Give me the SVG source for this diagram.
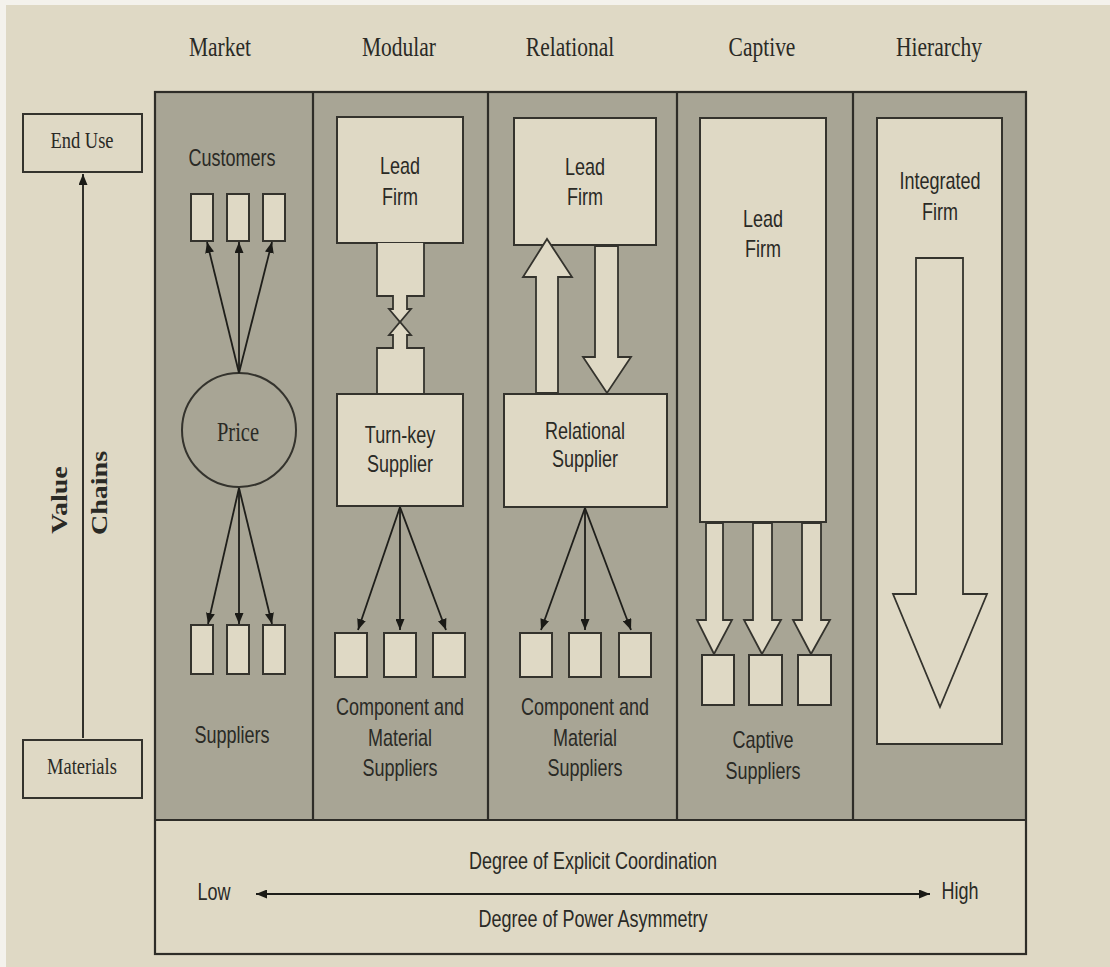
<svg xmlns="http://www.w3.org/2000/svg" width="1110" height="967" viewBox="0 0 1110 967">
<style>
.bg{fill:#dfd9c5}
.panel{fill:#a8a595}
.frame{fill:none;stroke:#2e2d28;stroke-width:2.2}
.box{fill:#dfd9c5;stroke:#34332d;stroke-width:2}
.blk{fill:#dfd9c5;stroke:#34332d;stroke-width:1.8;stroke-linejoin:miter}
.ln{stroke:#1e1e1a;stroke-width:1.8;fill:none}
.serif{font-family:"Liberation Serif","Times New Roman",serif;fill:#2a2a25;text-anchor:middle}
.sans{font-family:"Liberation Sans",Arial,sans-serif;fill:#2a2a25;text-anchor:middle;font-size:18px}
.title{font-size:21.5px}
</style>
<defs>
<marker id="ah" markerWidth="11" markerHeight="9" refX="11" refY="4.5" orient="auto-start-reverse" markerUnits="userSpaceOnUse">
<path d="M0,0 L11,4.5 L0,9 z" fill="#1a1a16"/>
</marker>
</defs>

<rect width="1110" height="967" fill="#f4f2ec"/>
<rect x="6" y="5" width="1104" height="962" class="bg"/>

<!-- column titles -->
<g id="titles">
<text class="serif title" x="220" y="56" transform="matrix(1 0 0 1.3 0 -16.8)">Market</text>
<text class="serif title" x="399" y="56" transform="matrix(1 0 0 1.3 0 -16.8)">Modular</text>
<text class="serif title" x="570" y="56" transform="matrix(1 0 0 1.3 0 -16.8)">Relational</text>
<text class="serif title" x="762" y="56" transform="matrix(1 0 0 1.3 0 -16.8)">Captive</text>
<text class="serif title" x="939" y="56" transform="matrix(1 0 0 1.3 0 -16.8)">Hierarchy</text>
</g>

<!-- main panel -->
<g id="panel">
<rect x="155" y="92" width="871" height="728" class="panel"/>
<rect x="155" y="820" width="871" height="134" class="bg"/>
<rect x="155" y="92" width="871" height="862" class="frame"/>
<line x1="155" y1="820" x2="1026" y2="820" class="frame"/>
<line x1="313" y1="92" x2="313" y2="820" class="frame"/>
<line x1="488" y1="92" x2="488" y2="820" class="frame"/>
<line x1="677" y1="92" x2="677" y2="820" class="frame"/>
<line x1="853" y1="92" x2="853" y2="820" class="frame"/>
</g>

<!-- value chain axis -->
<g id="end-use">
<rect x="23" y="114" width="119" height="58" class="box"/>
<text class="serif" font-size="18.5" x="82" y="148" transform="matrix(1 0 0 1.3 0 -44.4)">End Use</text>
</g>
<g id="materials">
<rect x="23" y="740" width="119" height="58" class="box"/>
<text class="serif" font-size="18.5" x="82" y="774" transform="matrix(1 0 0 1.3 0 -232.2)">Materials</text>
</g>
<g id="value-chains-label">
<text class="serif" font-size="23" font-weight="bold" transform="translate(67,500) rotate(-90) scale(1.22,1)" x="0" y="0">Value</text>
<text class="serif" font-size="23" font-weight="bold" transform="translate(107,493) rotate(-90) scale(1.22,1)" x="0" y="0">Chains</text>
</g>

<!-- Market -->
<g id="market-customers">
<text class="sans" x="232" y="166" transform="matrix(1 0 0 1.3 0 -49.8)">Customers</text>
<rect x="191" y="194" width="22" height="47" class="box"/>
<rect x="227" y="194" width="22" height="47" class="box"/>
<rect x="263" y="194" width="22" height="47" class="box"/>
</g>
<g id="market-price">
<circle cx="239" cy="430" r="57" fill="#a8a595" stroke="#34332d" stroke-width="2"/>
<text class="serif" font-size="20.5" x="238" y="441" transform="matrix(1 0 0 1.3 0 -132.3)">Price</text>
</g>
<g id="market-suppliers">
<rect x="191" y="625" width="22" height="49" class="box"/>
<rect x="227" y="625" width="22" height="49" class="box"/>
<rect x="263" y="625" width="22" height="49" class="box"/>
<text class="sans" x="232" y="743" transform="matrix(1 0 0 1.3 0 -222.9)">Suppliers</text>
</g>

<!-- Modular -->
<g id="modular-lead-firm">
<rect x="337" y="117" width="126" height="126" class="box"/>
<text class="sans" x="400" y="174" transform="matrix(1 0 0 1.3 0 -52.2)">Lead</text>
<text class="sans" x="400" y="205" transform="matrix(1 0 0 1.3 0 -61.5)">Firm</text>
</g>
<g id="turnkey-supplier">
<rect x="337" y="394" width="126" height="112" class="box"/>
<text class="sans" x="400" y="443" transform="matrix(1 0 0 1.3 0 -132.9)">Turn-key</text>
<text class="sans" x="400" y="472" transform="matrix(1 0 0 1.3 0 -141.6)">Supplier</text>
</g>
<g id="modular-suppliers">
<rect x="335" y="633" width="32" height="44" class="box"/>
<rect x="384" y="633" width="32" height="44" class="box"/>
<rect x="433" y="633" width="32" height="44" class="box"/>
<text class="sans" x="400" y="715" transform="matrix(1 0 0 1.3 0 -214.5)">Component and</text>
<text class="sans" x="400" y="746" transform="matrix(1 0 0 1.3 0 -223.8)">Material</text>
<text class="sans" x="400" y="776" transform="matrix(1 0 0 1.3 0 -232.8)">Suppliers</text>
</g>

<!-- Relational -->
<g id="relational-lead-firm">
<rect x="514" y="118" width="142" height="127" class="box"/>
<text class="sans" x="585" y="175" transform="matrix(1 0 0 1.3 0 -52.5)">Lead</text>
<text class="sans" x="585" y="205" transform="matrix(1 0 0 1.3 0 -61.5)">Firm</text>
</g>
<g id="relational-supplier">
<rect x="504" y="394" width="163" height="113" class="box"/>
<text class="sans" x="585" y="439" transform="matrix(1 0 0 1.3 0 -131.7)">Relational</text>
<text class="sans" x="585" y="467" transform="matrix(1 0 0 1.3 0 -140.1)">Supplier</text>
</g>
<g id="relational-suppliers">
<rect x="520" y="633" width="32" height="44" class="box"/>
<rect x="569" y="633" width="32" height="44" class="box"/>
<rect x="619" y="633" width="32" height="44" class="box"/>
<text class="sans" x="585" y="715" transform="matrix(1 0 0 1.3 0 -214.5)">Component and</text>
<text class="sans" x="585" y="746" transform="matrix(1 0 0 1.3 0 -223.8)">Material</text>
<text class="sans" x="585" y="776" transform="matrix(1 0 0 1.3 0 -232.8)">Suppliers</text>
</g>

<!-- Captive -->
<g id="captive-lead-firm">
<rect x="700" y="118" width="126" height="404" class="box"/>
<text class="sans" x="763" y="227" transform="matrix(1 0 0 1.3 0 -68.1)">Lead</text>
<text class="sans" x="763" y="257" transform="matrix(1 0 0 1.3 0 -77.1)">Firm</text>
</g>
<g id="captive-suppliers">
<rect x="702" y="655" width="32" height="50" class="box"/>
<rect x="749" y="655" width="33" height="50" class="box"/>
<rect x="798" y="655" width="33" height="50" class="box"/>
<text class="sans" x="763" y="748" transform="matrix(1 0 0 1.3 0 -224.4)">Captive</text>
<text class="sans" x="763" y="779" transform="matrix(1 0 0 1.3 0 -233.7)">Suppliers</text>
</g>

<!-- Hierarchy -->
<g id="integrated-firm">
<rect x="877" y="118" width="125" height="626" class="box"/>
<text class="sans" x="940" y="189" transform="matrix(1 0 0 1.3 0 -56.7)">Integrated</text>
<text class="sans" x="940" y="220" transform="matrix(1 0 0 1.3 0 -66)">Firm</text>
</g>

<!-- coordination scale -->
<g id="scale-labels">
<text class="sans" x="593" y="869" transform="matrix(1 0 0 1.3 0 -260.7)">Degree of Explicit Coordination</text>
<text class="sans" x="214" y="900" transform="matrix(1 0 0 1.3 0 -270)">Low</text>
<text class="sans" x="960" y="899" transform="matrix(1 0 0 1.3 0 -269.7)">High</text>
<text class="sans" x="593" y="927" transform="matrix(1 0 0 1.3 0 -278.1)">Degree of Power Asymmetry</text>
</g>

<!-- connectors -->
<g id="connectors">
<line x1="83" y1="738" x2="83" y2="174" class="ln" stroke-width="2.2" marker-end="url(#ah)"/>

<line x1="239" y1="373" x2="207" y2="242" class="ln" marker-end="url(#ah)"/>
<line x1="239" y1="373" x2="239" y2="242" class="ln" marker-end="url(#ah)"/>
<line x1="239" y1="373" x2="272" y2="242" class="ln" marker-end="url(#ah)"/>
<line x1="239" y1="488" x2="208" y2="624" class="ln" marker-end="url(#ah)"/>
<line x1="239" y1="488" x2="239" y2="624" class="ln" marker-end="url(#ah)"/>
<line x1="239" y1="488" x2="272" y2="624" class="ln" marker-end="url(#ah)"/>

<path d="M377,243 V296 H393 V309 H389 L400,322 L411,309 H407 V296 H424 V243" class="blk"/>
<path d="M377,393 V348 H393 V335 H389 L400,322 L411,335 H407 V348 H424 V393" class="blk"/>

<line x1="400" y1="507" x2="358" y2="630" class="ln" marker-end="url(#ah)"/>
<line x1="400" y1="507" x2="400" y2="630" class="ln" marker-end="url(#ah)"/>
<line x1="400" y1="507" x2="446" y2="630" class="ln" marker-end="url(#ah)"/>

<polygon points="536,393 536,277 523,277 547,239 572,277 558,277 558,393" class="blk"/>
<polygon points="595,246 595,357 583,357 607,393 631,357 618,357 618,246" class="blk"/>

<line x1="585" y1="508" x2="541" y2="630" class="ln" marker-end="url(#ah)"/>
<line x1="585" y1="508" x2="585" y2="630" class="ln" marker-end="url(#ah)"/>
<line x1="585" y1="508" x2="631" y2="630" class="ln" marker-end="url(#ah)"/>

<polygon points="706,523 706,620 697,620 714,654 732,620 723,620 723,523" class="blk"/>
<polygon points="753,523 753,620 744,620 762,654 781,620 772,620 772,523" class="blk"/>
<polygon points="802,523 802,620 793,620 811,654 830,620 821,620 821,523" class="blk"/>

<polygon points="916,258 916,594 893,594 940,707 987,594 963,594 963,258" class="blk" stroke-width="1.5"/>

<line x1="256" y1="894" x2="930" y2="894" class="ln" stroke-width="2" marker-start="url(#ah)" marker-end="url(#ah)"/>
</g>
</svg>
